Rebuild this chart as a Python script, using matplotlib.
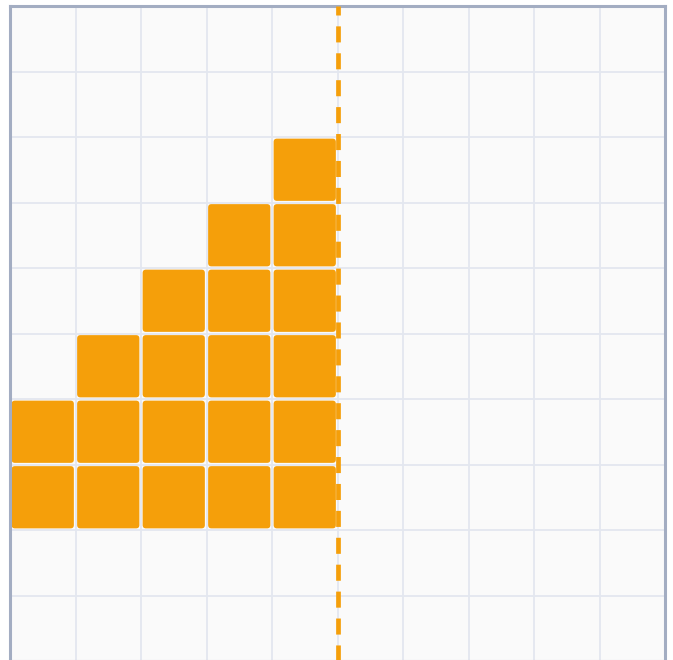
import matplotlib
matplotlib.use("Agg")
import matplotlib.pyplot as plt
from matplotlib.patches import FancyBboxPatch

# stacked unit squares per column
columns = [0, 1, 2, 3, 4]
counts = [2, 3, 4, 5, 6]
base_row = 2
cutoff = 5
grid_size = 10

sq_color = "#F59F0A"
bg_color = "#FAFAFA"
grid_color = "#E3E7EF"
spine_color = "#A3ADC2"

fig = plt.figure(figsize=(6.73, 6.60), dpi=100)
ax = fig.add_axes([10 / 673, -1 / 660, 655 / 673, 655 / 660])
ax.set_facecolor(bg_color)
ax.set_xlim(0, grid_size)
ax.set_ylim(0, grid_size)

for v in range(1, grid_size):
    ax.axvline(v, color=grid_color, lw=1.3, zorder=1)
    ax.axhline(v, color=grid_color, lw=1.3, zorder=1)

inset = 0.025
for col, n in zip(columns, counts):
    for k in range(n):
        y = base_row + k
        box = FancyBboxPatch((col + inset, y + inset), 1 - 2 * inset, 1 - 2 * inset,
                             boxstyle="round,pad=0,rounding_size=0.05",
                             facecolor=sq_color, edgecolor="none", zorder=2)
        ax.add_patch(box)

ax.axvline(cutoff + 0.01, color=sq_color, lw=3.4, dashes=(3.4, 2.3), zorder=3)

ax.set_xticks([])
ax.set_yticks([])
for side in ax.spines.values():
    side.set_color(spine_color)
    side.set_linewidth(2.2)

fig.savefig("out.png", dpi=100, facecolor="white")
